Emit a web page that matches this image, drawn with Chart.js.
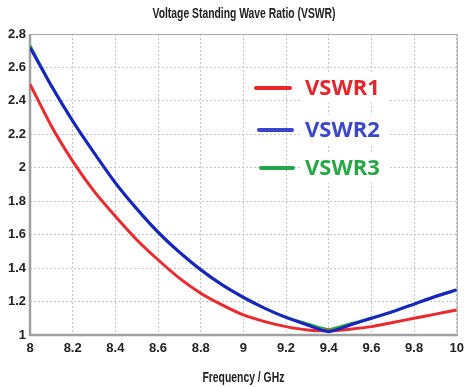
<!DOCTYPE html>
<html>
<head>
<meta charset="utf-8">
<script src="https://cdn.jsdelivr.net/npm/chart.js@4"></script>
<style>
    html, body { margin: 0; padding: 0; background: #fff; }
    #wrap { width: 470px; height: 387px; }
</style>
</head>
<body>
<div id="wrap"><canvas id="vswrChart" width="470" height="387"></canvas></div>
<script>
// Frequency sweep (GHz) and VSWR readings
const freq  = [8.0, 8.1, 8.2, 8.3, 8.4, 8.5, 8.6, 8.7, 8.8, 8.9, 9.0, 9.1, 9.2, 9.3, 9.4, 9.5, 9.6, 9.7, 9.8, 9.9, 10.0];
const vswr1 = [2.50, 2.25, 2.04, 1.86, 1.71, 1.57, 1.45, 1.34, 1.25, 1.18, 1.12, 1.08, 1.05, 1.03, 1.025, 1.035, 1.05, 1.075, 1.10, 1.125, 1.15];
const vswr2 = [2.72, 2.49, 2.28, 2.09, 1.91, 1.755, 1.615, 1.495, 1.39, 1.30, 1.225, 1.16, 1.105, 1.06, 1.02, 1.06, 1.10, 1.14, 1.185, 1.23, 1.27];
const vswr3 = [2.73, 2.49, 2.28, 2.09, 1.91, 1.755, 1.615, 1.495, 1.39, 1.30, 1.225, 1.16, 1.105, 1.066, 1.032, 1.066, 1.10, 1.14, 1.185, 1.23, 1.27];

const xTicks = [8, 8.2, 8.4, 8.6, 8.8, 9, 9.2, 9.4, 9.6, 9.8, 10];
const yTicks = [1, 1.2, 1.4, 1.6, 1.8, 2, 2.2, 2.4, 2.6, 2.8];

const chartTitle = 'Voltage Standing Wave Ratio (VSWR)';
const xTitle = 'Frequency / GHz';

const legendItems = [
    { label: 'VSWR1', line: '#e8262b', text: '#e8242b' },
    { label: 'VSWR2', line: '#3b44cc', text: '#3a47c9' },
    { label: 'VSWR3', line: '#22a84a', text: '#27a744' }
];

function toPoints(ys) {
    return freq.map(function(f, i) { return { x: f, y: ys[i] }; });
}

// condensed look: squeeze text horizontally to a target width
function drawSqueezed(ctx, text, cx, cy, font, width) {
    ctx.save();
    ctx.font = font;
    const w = ctx.measureText(text).width;
    const k = Math.min(1, width / w);
    ctx.translate(cx, cy);
    ctx.scale(k, 1);
    ctx.textAlign = 'center';
    ctx.textBaseline = 'middle';
    ctx.fillStyle = '#222';
    ctx.fillText(text, 0, 0);
    ctx.restore();
}

// Plot frame: thin box plus heavier left/bottom axes
const framePlugin = {
    id: 'frame',
    beforeDatasetsDraw(chart) {
        const { ctx, chartArea: a } = chart;
        ctx.save();
        ctx.strokeStyle = '#a8a8a8';
        ctx.lineWidth = 1;
        ctx.strokeRect(a.left + 0.5, a.top + 0.5, a.right - a.left, a.bottom - a.top);
        ctx.strokeStyle = '#a0a0a0';
        ctx.lineWidth = 2.5;
        ctx.beginPath();
        ctx.moveTo(a.left, a.top);
        ctx.lineTo(a.left, a.bottom);
        ctx.lineTo(a.right + 1, a.bottom);
        ctx.stroke();
        ctx.restore();
    },
    afterDraw(chart) {
        const { ctx, chartArea: a } = chart;
        drawSqueezed(ctx, chartTitle, 244, 14, "bold 15px 'Liberation Sans', sans-serif", 183);
        drawSqueezed(ctx, xTitle, (a.left + a.right) / 2, 378, "bold 15px 'Liberation Sans', sans-serif", 82);
    }
};

// Legend drawn inside the plot, text on white boxes
const legendPlugin = {
    id: 'insideLegend',
    afterDatasetsDraw(chart) {
        const { ctx } = chart;
        const rows = [88, 130, 168];
        const lineX = [[256, 290], [259, 292], [261, 293]];
        ctx.save();
        ctx.font = "bold 22px 'Open Sans', sans-serif";
        ctx.textBaseline = 'middle';
        legendItems.forEach(function(item, i) {
            const y = rows[i];
            ctx.fillStyle = '#fff';
            ctx.fillRect(300, y - 15, 90, 30);
            ctx.strokeStyle = item.line;
            ctx.lineWidth = 4;
            ctx.lineCap = 'round';
            ctx.beginPath();
            ctx.moveTo(lineX[i][0], y);
            ctx.lineTo(lineX[i][1], y);
            ctx.stroke();
            ctx.fillStyle = item.text;
            ctx.fillText(item.label, 305, y + 1);
        });
        ctx.restore();
    }
};

const tickFont = { family: "'Liberation Sans', sans-serif", size: 13, weight: 'bold' };

new Chart(document.getElementById('vswrChart'), {
    type: 'line',
    data: {
        // first dataset is painted last, so blue sits on top of green
        datasets: [
            { label: 'VSWR2', data: toPoints(vswr2), borderColor: '#1a22c8', borderWidth: 3 },
            { label: 'VSWR1', data: toPoints(vswr1), borderColor: '#ea2a2e', borderWidth: 3 },
            { label: 'VSWR3', data: toPoints(vswr3), borderColor: '#1fae3a', borderWidth: 3 }
        ]
    },
    options: {
        responsive: false,
        animation: false,
        devicePixelRatio: 1,
        layout: { padding: { left: 0, right: 13, top: 34, bottom: 0 } },
        elements: {
            point: { radius: 0 },
            line: { tension: 0.2, fill: false }
        },
        plugins: {
            legend: { display: false },
            tooltip: { enabled: false },
            title: { display: false }
        },
        scales: {
            x: {
                type: 'linear',
                min: 8,
                max: 10,
                afterBuildTicks: function(axis) {
                    axis.ticks = xTicks.map(function(v) { return { value: v }; });
                },
                afterFit: function(axis) { axis.height = 52; },
                grid: { color: '#c4c4c4', lineWidth: 1, drawTicks: false },
                border: { display: false, dash: [2, 2] },
                ticks: {
                    padding: 6,
                    color: '#222',
                    maxRotation: 0,
                    font: tickFont,
                    callback: function(v) { return String(Number(v.toFixed(1))); }
                }
            },
            y: {
                type: 'linear',
                min: 1,
                max: 2.8,
                afterBuildTicks: function(axis) {
                    axis.ticks = yTicks.map(function(v) { return { value: v }; });
                },
                afterFit: function(axis) { axis.width = 30; },
                grid: { color: '#c4c4c4', lineWidth: 1, drawTicks: false },
                border: { display: false, dash: [2, 2] },
                ticks: {
                    padding: 4,
                    color: '#222',
                    font: tickFont,
                    callback: function(v) { return String(Number(v.toFixed(1))); }
                }
            }
        }
    },
    plugins: [framePlugin, legendPlugin]
});
</script>
</body>
</html>
